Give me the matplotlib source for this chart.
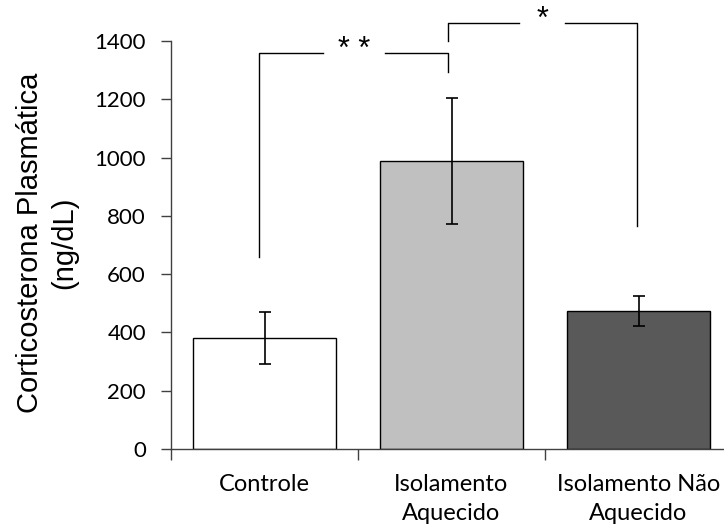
import matplotlib.pyplot as plt

grupos = ['Controle', 'Isolamento\nAquecido', 'Isolamento Não\nAquecido']
medias = [382, 989, 474]
erros = [89, 217, 52]
cores = ['white', '#c0c0c0', '#595959']

# brackets de significancia: (x esq, x dir, altura, base esq, base dir, texto, gap)
brackets = [
    (-0.03, 0.98, 1359, 660, 1294, '* *', (0.313, 0.644)),
    (0.98, 1.99, 1462, 1400, 765, '*', (1.361, 1.607)),
]

fig = plt.figure(figsize=(7.24, 5.29), dpi=100)
ax = fig.add_axes([171 / 724, 80 / 529, 3 * 187 / 724, 408 / 529])

x = range(len(grupos))
ax.bar(x, medias, width=0.77, color=cores, edgecolor='black', linewidth=1.0, zorder=2)
ax.errorbar(x, medias, yerr=erros, fmt='none', ecolor='black', elinewidth=1.2,
            capsize=4, capthick=1.2, zorder=3)

for x1, x2, h, b1, b2, txt, gap in brackets:
    kw = dict(color='black', lw=1.0, clip_on=False)
    ax.plot([x1, x1, gap[0]], [b1, h, h], **kw)
    ax.plot([gap[1], x2, x2], [h, h, b2], **kw)
    ax.text((gap[0] + gap[1]) / 2, h + 10, txt, ha='center', va='center',
            fontsize=22, family='Liberation Sans', clip_on=False)

ax.set_xlim(-0.5, 2.5)
ax.set_ylim(0, 1400)
ax.set_yticks(range(0, 1401, 200))
ax.set_xticks(list(x))
ax.set_xticklabels(grupos, family='Lato', fontsize=17, linespacing=1.45)
ax.set_xticks([-0.5, 0.5, 1.5, 2.5], minor=True)
for lab in ax.get_yticklabels():
    lab.set_family('Lato')
    lab.set_fontsize(16)

ax.tick_params(axis='x', which='major', length=0, pad=18)
ax.tick_params(axis='x', which='minor', length=8, width=1, color='#404040', direction='out')
ax.tick_params(axis='y', length=7, width=1, color='#404040', pad=11)

for s in ['top', 'right']:
    ax.spines[s].set_visible(False)
for s in ['left', 'bottom']:
    ax.spines[s].set_color('#404040')
    ax.spines[s].set_linewidth(1.0)
ax.spines['bottom'].set_zorder(4)

fig.text(47 / 724, 1 - 243 / 529, 'Corticosterona Plasmática\n(ng/dL)', rotation=90,
         ha='center', va='center', multialignment='center', fontsize=21,
         family='Liberation Sans', linespacing=1.25)

fig.savefig('out.png', dpi=100)
